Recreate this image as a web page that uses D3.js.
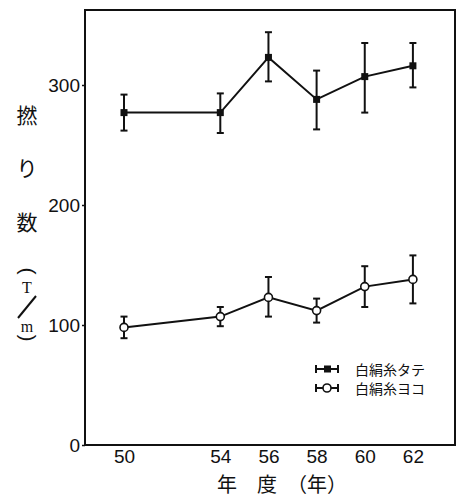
<!DOCTYPE html>
<html>
<head>
<meta charset="utf-8">
<script src="https://cdn.jsdelivr.net/npm/d3@7"></script>
<style>
  body { margin: 0; background: #fff; }
  text { fill: #111; }
</style>
</head>
<body>
<svg id="chart" width="458" height="501"></svg>
<script>
const width = 458;
const height = 501;
const margin = { top: 10, right: 2, bottom: 56, left: 85 };

// data
const years = [50, 54, 56, 58, 60, 62];
const tateMean = [277, 277, 323, 288, 307, 316];
const tateLow  = [262, 260, 303, 263, 277, 298];
const tateHigh = [292, 293, 344, 312, 335, 335];
const yokoMean = [98, 107, 123, 112, 132, 138];
const yokoLow  = [89, 99, 107, 102, 115, 118];
const yokoHigh = [107, 115, 140, 122, 149, 158];
const yTicks = [0, 100, 200, 300];
const seriesNames = ["白絹糸タテ", "白絹糸ヨコ"];

const svg = d3.select("#chart");
const ink = "#111";

const xScale = d3.scaleLinear()
    .domain([48.38, 63.79])
    .range([margin.left, width - margin.right]);

const yScale = d3.scaleLinear()
    .domain([0, 362.5])
    .range([height - margin.bottom, margin.top]);

// frame
svg.append("rect")
    .attr("x", margin.left)
    .attr("y", margin.top)
    .attr("width", width - margin.left - margin.right - 1)
    .attr("height", height - margin.top - margin.bottom)
    .attr("fill", "none")
    .attr("stroke", ink)
    .attr("stroke-width", 2);

// y axis
const yAxis = svg.append("g")
    .attr("transform", `translate(${margin.left}, 0)`)
    .call(d3.axisLeft(yScale).tickValues(yTicks).tickSize(3).tickPadding(2));
yAxis.select(".domain").remove();
yAxis.selectAll("line").attr("stroke", ink).attr("stroke-width", 1.5);
yAxis.selectAll("text")
    .style("font-family", "Liberation Sans, Arial, sans-serif")
    .style("font-size", "19px")
    .attr("fill", ink);

// x axis
const xAxis = svg.append("g")
    .attr("transform", `translate(0, ${height - margin.bottom})`)
    .call(d3.axisBottom(xScale).tickValues(years).tickSize(0).tickPadding(5));
xAxis.select(".domain").remove();
xAxis.selectAll("text")
    .style("font-family", "Liberation Sans, Arial, sans-serif")
    .style("font-size", "19px")
    .attr("fill", ink);

// x axis title
svg.append("text")
    .attr("x", 217)
    .attr("y", 492)
    .attr("text-anchor", "start")
    .style("font-family", "Noto Sans CJK JP")
    .style("font-size", "20px")
    .text("年　度　（年）");

// y axis title, stacked vertically
const yTitle = [
    { t: "撚", y: 123, s: 21, r: 0 },
    { t: "り", y: 176, s: 21, r: 0 },
    { t: "数", y: 230, s: 21, r: 0 },
    { t: "(", y: 271, s: 21, r: 90 },
    { t: "T", y: 293, s: 16, r: 0 },
    { t: "m", y: 332, s: 16, r: 0 },
    { t: ")", y: 338, s: 21, r: 90 }
];
svg.append("g").selectAll("text")
    .data(yTitle)
    .enter()
    .append("text")
        .attr("x", 27)
        .attr("y", d => d.y)
        .attr("text-anchor", "middle")
        .attr("dominant-baseline", d => d.r ? "middle" : "auto")
        .attr("transform", d => d.r ? `rotate(${d.r}, 27, ${d.y})` : null)
        .style("font-family", d => d.r ? "Liberation Sans, sans-serif" : (d.t === "T" || d.t === "m" ? "Liberation Serif, serif" : "Noto Sans CJK JP"))
        .style("font-size", d => d.s + "px")
        .text(d => d.t);
svg.append("line")
    .attr("x1", 36).attr("y1", 296)
    .attr("x2", 18).attr("y2", 318)
    .attr("stroke", ink)
    .attr("stroke-width", 2);

// one series = error bars + line + markers
function drawSeries(mean, low, high, filled) {
    const pts = years.map((y, i) => ({ year: y, v: mean[i], lo: low[i], hi: high[i] }));
    const g = svg.append("g");

    const bars = g.selectAll("g.err").data(pts).enter().append("g").attr("class", "err");
    bars.append("line")
        .attr("x1", d => xScale(d.year)).attr("x2", d => xScale(d.year))
        .attr("y1", d => yScale(d.lo)).attr("y2", d => yScale(d.hi));
    bars.append("line")
        .attr("x1", d => xScale(d.year) - 3.5).attr("x2", d => xScale(d.year) + 3.5)
        .attr("y1", d => yScale(d.hi)).attr("y2", d => yScale(d.hi));
    bars.append("line")
        .attr("x1", d => xScale(d.year) - 3.5).attr("x2", d => xScale(d.year) + 3.5)
        .attr("y1", d => yScale(d.lo)).attr("y2", d => yScale(d.lo));
    bars.selectAll("line").attr("stroke", ink).attr("stroke-width", 2);

    const line = d3.line()
        .x(d => xScale(d.year))
        .y(d => yScale(d.v));
    g.append("path")
        .datum(pts)
        .attr("d", line)
        .attr("fill", "none")
        .attr("stroke", ink)
        .attr("stroke-width", 2);

    if (filled) {
        g.selectAll("rect").data(pts).enter().append("rect")
            .attr("x", d => xScale(d.year) - 3.5)
            .attr("y", d => yScale(d.v) - 3.5)
            .attr("width", 7).attr("height", 7)
            .attr("fill", ink);
    } else {
        g.selectAll("circle").data(pts).enter().append("circle")
            .attr("cx", d => xScale(d.year))
            .attr("cy", d => yScale(d.v))
            .attr("r", 4)
            .attr("fill", "#fff")
            .attr("stroke", ink)
            .attr("stroke-width", 1.6);
    }
}

drawSeries(tateMean, tateLow, tateHigh, true);
drawSeries(yokoMean, yokoLow, yokoHigh, false);

// legend
const legend = svg.append("g").attr("transform", "translate(316, 369)");
seriesNames.forEach((name, i) => {
    const row = legend.append("g").attr("transform", `translate(0, ${i * 19})`);
    row.append("line").attr("x1", 0).attr("x2", 22).attr("y1", 0).attr("y2", 0);
    row.append("line").attr("x1", 0).attr("x2", 0).attr("y1", -4).attr("y2", 4);
    row.append("line").attr("x1", 22).attr("x2", 22).attr("y1", -4).attr("y2", 4);
    row.selectAll("line").attr("stroke", ink).attr("stroke-width", 2);
    if (i === 0) {
        row.append("rect").attr("x", 8).attr("y", -3.5).attr("width", 7).attr("height", 7).attr("fill", ink);
    } else {
        row.append("circle").attr("cx", 11).attr("cy", 0).attr("r", 4)
            .attr("fill", "#fff").attr("stroke", ink).attr("stroke-width", 1.6);
    }
    row.append("text")
        .attr("x", 39)
        .attr("y", 6)
        .style("font-family", "Noto Sans CJK JP")
        .style("font-size", "14px")
        .text(name);
});
</script>
</body>
</html>
